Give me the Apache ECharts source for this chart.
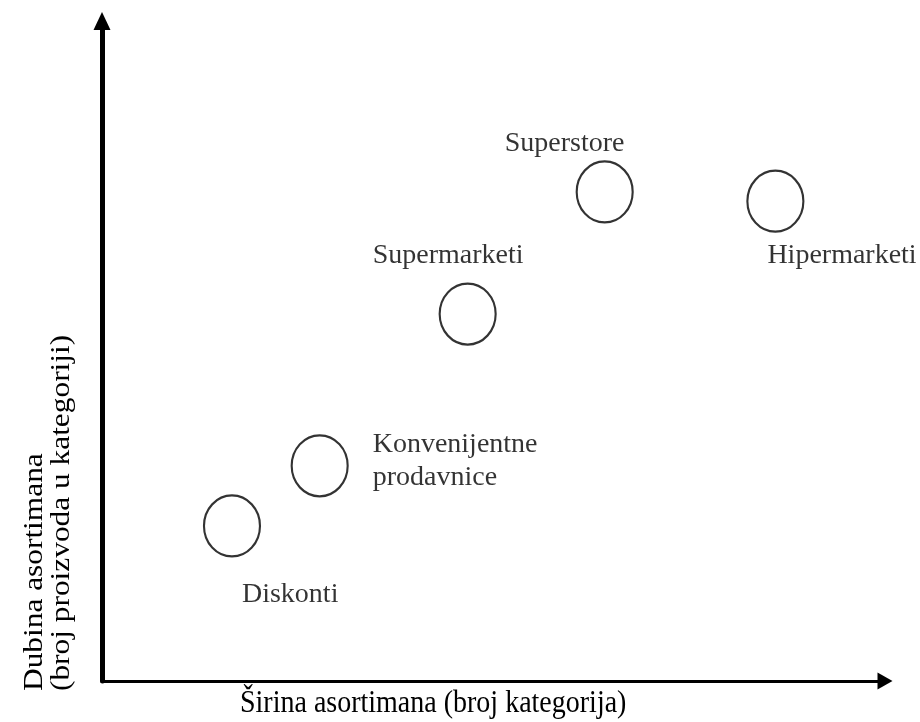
<!DOCTYPE html>
<html>
<head>
<meta charset="utf-8">
<script src="https://cdn.jsdelivr.net/npm/echarts@6/dist/echarts.min.js"></script>
<style>
  html, body { margin: 0; padding: 0; background: #fff; }
  #chart { width: 920px; height: 722px; }
</style>
</head>
<body>
<div id="chart"></div>
<script>
  // tipovi prodavnica i njihov položaj (širina / dubina asortimana)
  const stores = ['Diskonti', 'Konvenijentne\nprodavnice', 'Supermarketi', 'Superstore', 'Hipermarketi'];
  const sirina = [16.6, 27.8, 46.7, 64.2, 86.0];
  const dubina = [23.5, 32.6, 55.6, 74.1, 72.7];

  const xTitle = 'Širina asortimana (broj kategorija)';
  const yTitle = ['Dubina asortimana', '(broj proizvoda u kategoriji)'];

  const serif = 'Liberation Serif, Times New Roman, serif';

  // pomak natpisa od centra kruga
  const labelOffset = {
    'Diskonti': [10, 69],
    'Konvenijentne\nprodavnice': [53, -5],
    'Supermarketi': [-95, -58],
    'Superstore': [-100, -48],
    'Hipermarketi': [-8, 54]
  };

  const chart = echarts.init(document.getElementById('chart'));

  const points = stores.map(function (name, i) {
    return {
      name: name,
      value: [sirina[i], dubina[i]],
      label: { offset: labelOffset[name] }
    };
  });

  const option = {
    animation: false,
    backgroundColor: '#fff',
    grid: { left: 102, right: 35, top: 21, bottom: 41, outerBoundsMode: 'none' },
    xAxis: {
      type: 'value',
      min: 0,
      max: 100,
      axisLine: {
        show: true,
        symbol: ['none', 'triangle'],
        symbolSize: [17, 15],
        lineStyle: { color: '#000', width: 3 }
      },
      axisTick: { show: false },
      axisLabel: { show: false },
      splitLine: { show: false }
    },
    yAxis: {
      type: 'value',
      min: 0,
      max: 100,
      axisLine: {
        show: true,
        symbol: ['none', 'triangle'],
        symbolSize: [17, 18],
        lineStyle: { color: '#000', width: 5 }
      },
      axisTick: { show: false },
      axisLabel: { show: false },
      splitLine: { show: false }
    },
    graphic: [{
      type: 'text',
      x: 48,
      y: 691,
      rotation: Math.PI / 2,
      scaleX: 1.12,
      style: {
        text: yTitle.join('\n'),
        fontFamily: serif,
        fontSize: 28,
        lineHeight: 27,
        fill: '#000',
        align: 'left',
        verticalAlign: 'middle'
      }
    }, {
      type: 'text',
      x: 240,
      y: 704,
      scaleY: 1.1,
      style: {
        text: xTitle,
        fontFamily: serif,
        fontSize: 28,
        fill: '#000',
        align: 'left',
        verticalAlign: 'middle'
      }
    }],
    series: [{
      type: 'scatter',
      symbol: 'circle',
      symbolSize: [56, 61],
      itemStyle: { color: 'rgba(0,0,0,0)', borderColor: '#000', borderWidth: 2.2 },
      label: {
        show: true,
        position: 'inside',
        formatter: '{b}',
        align: 'left',
        verticalAlign: 'middle',
        fontFamily: serif,
        fontSize: 28,
        lineHeight: 33,
        color: '#000'
      },
      emphasis: { disabled: true },
      data: points
    }]
  };

  chart.setOption(option);
</script>
</body>
</html>
